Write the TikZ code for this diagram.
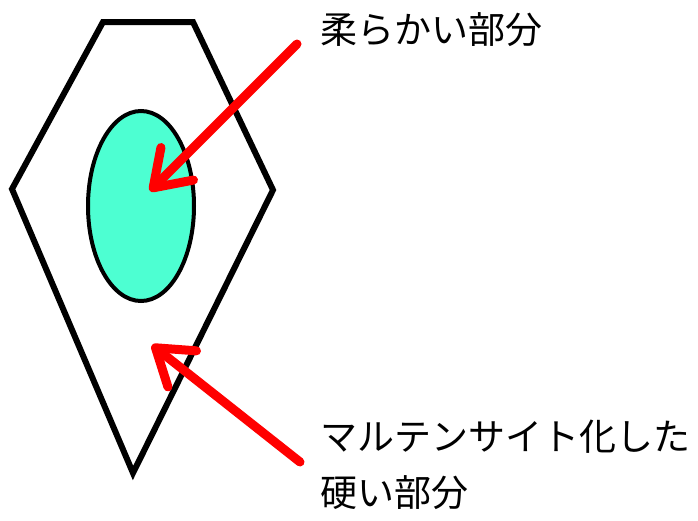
\documentclass[tikz,border=0pt]{standalone}
\usepackage{fontspec}
\newfontfamily\jpfont{Noto Sans CJK JP}
\usepackage{tikz}
\usetikzlibrary{arrows.meta, positioning}
\definecolor{softcore}{RGB}{77,255,210}
\tikzset{
  label/.style={anchor=west, inner sep=0pt, font=\jpfont\fontsize{37}{58}\selectfont},
  pointer/.style={red, line width=9pt, line cap=round, -{Straight Barb[length=34pt, width=46pt, round]}},
}
\begin{document}
\begin{tikzpicture}[x=1pt, y=-1pt]
\useasboundingbox (0,0) rectangle (698,520);
% outer grain
\draw[line width=6pt] (103,22) -- (193,22) -- (273,190) -- (133,473) -- (12,189) -- cycle;
% soft core
\draw[fill=softcore, line width=4pt] (141,206) ellipse (53 and 95);
\coordinate (coreTip) at (150,191);
\coordinate (shellTip) at (152,345);
% labels
\node[label] (soft) at (320,30) {柔らかい部分};
\node[label] (hard1) at (320,437) {マルテンサイト化した};
\node[label, below=21pt of hard1.south west, anchor=north west] (hard2) {硬い部分};
\coordinate (softTail) at (297,44);
\coordinate (hardTail) at (300,462);
% arrows
\draw[pointer] (softTail) -- (coreTip);
\draw[pointer] (hardTail) -- (shellTip);
\end{tikzpicture}
\end{document}
